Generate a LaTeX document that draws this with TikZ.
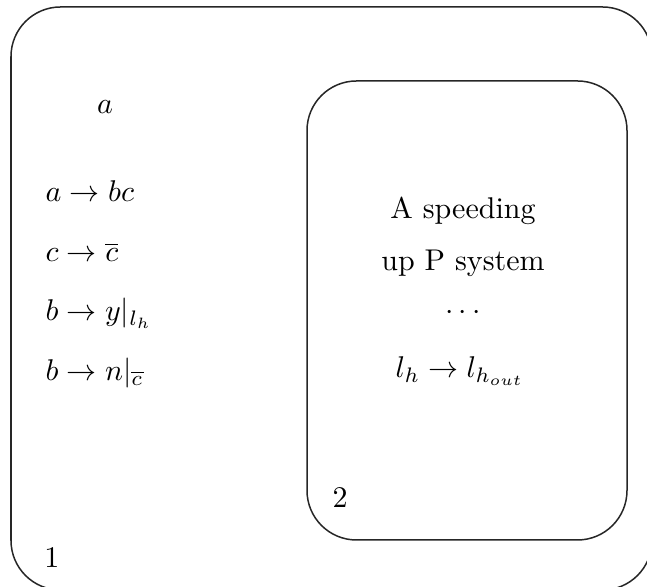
\documentclass[tikz,border=0pt]{standalone}
\begin{document}
\begin{tikzpicture}[x=0.3333pt,y=-0.3333pt,
  membrane/.style={draw=black!85,line width=0.5pt,rounded corners=16.5pt},
  txt/.style={inner sep=0pt,anchor=base west},
  ctxt/.style={inner sep=0pt,anchor=base}]
\useasboundingbox (0,0) rectangle (647,587);
\begin{scope}
\clip (0,0) rectangle (647,587);
\draw[membrane] (11,7) rectangle (652,590);
\end{scope}
\draw[membrane] (307,81) rectangle (627,540);
\node[ctxt] (a0) at (105,114) {$a$};
\node[txt] (r1) at (45,202) {$a\rightarrow bc$};
\node[txt] (r2) at (45,262) {$c\rightarrow \overline{c}$};
\node[txt] (r3) at (45,321) {$b\rightarrow y|_{l_h}$};
\node[txt] (r4) at (45,381) {$b\rightarrow n|_{\overline{c}}$};
\node[ctxt] (t1) at (463,219) {A speeding};
\node[ctxt] (t2) at (463,271) {up P system};
\node[ctxt] (t3) at (463,320) {$\cdots$};
\node[ctxt] (t4) at (460,378) {$l_h\rightarrow l_{h_{out}}$};
\node[ctxt] (n2) at (340,508) {2};
\node[ctxt] (n1) at (52,568) {1};
\end{tikzpicture}
\end{document}
